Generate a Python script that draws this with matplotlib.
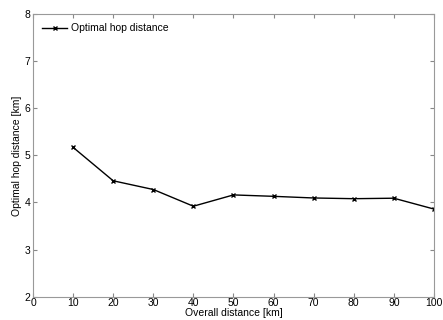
import matplotlib
matplotlib.use("Agg")
import matplotlib.pyplot as plt

plt.rcParams['font.family'] = ['Liberation Sans', 'DejaVu Sans']

distance_km = [10, 20, 30, 40, 50, 60, 70, 80, 90, 100]
hop_km = [5.17, 4.46, 4.275, 3.92, 4.16, 4.13, 4.095, 4.08, 4.09, 3.86]
xticks = [0, 10, 20, 30, 40, 50, 60, 70, 80, 90, 100]
yticks = [2, 3, 4, 5, 6, 7, 8]

fig = plt.figure(figsize=(4.43, 3.2), dpi=100)
ax = fig.add_axes([0.0745, 0.073, 0.905, 0.883])
ax.plot(distance_km, hop_km, color='black', lw=1.0, marker='x', ms=3.5, mew=1.0,
        label='Optimal hop distance')
ax.set_xlim(0, 100)
ax.set_ylim(2, 8)
ax.set_xticks(xticks)
ax.set_yticks(yticks)
ax.tick_params(direction='in', length=3, width=0.8, color='#888888', labelsize=7.5,
               top=True, right=True, pad=2)
ax.tick_params(axis='x', pad=1)
for s in ax.spines.values():
    s.set_color('#999999')
    s.set_linewidth(0.8)
ax.set_xlabel('Overall distance [km]', fontsize=7.5, labelpad=0)
ax.set_ylabel('Optimal hop distance [km]', fontsize=7.5, labelpad=2)
ax.legend(loc='upper left', frameon=False, fontsize=7.5, handlelength=2.4,
          handletextpad=0.3, borderaxespad=0.5, markerscale=0.9)
fig.savefig('out.png', dpi=100)
